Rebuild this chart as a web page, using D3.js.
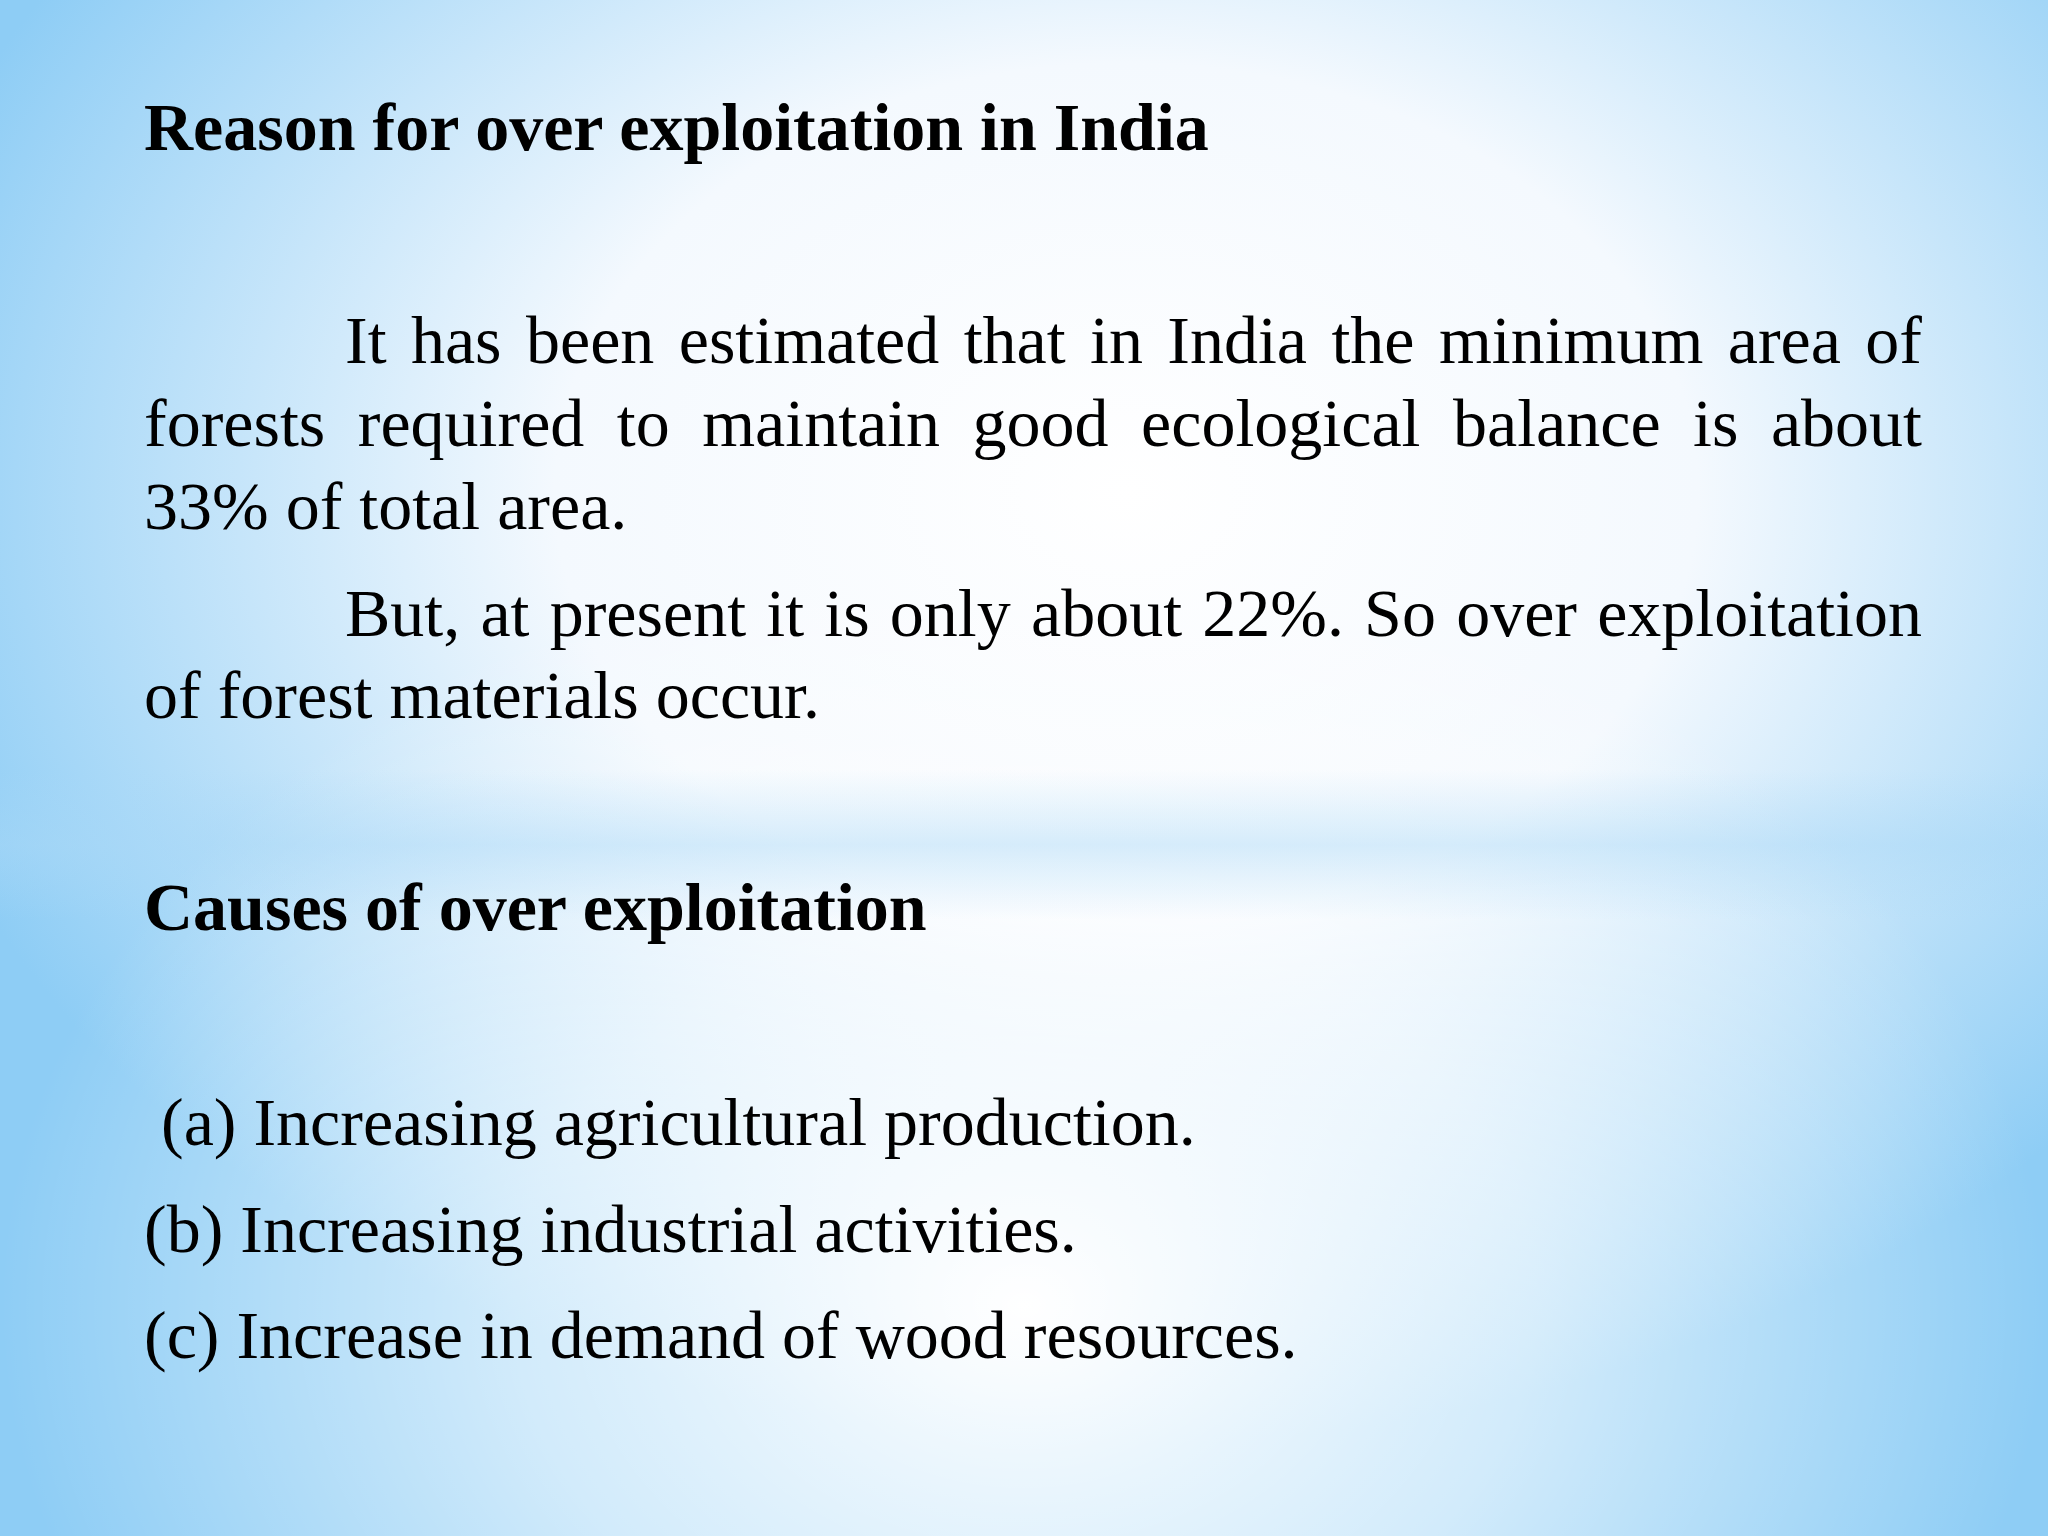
<!DOCTYPE html>
<html><head><meta charset="utf-8">
<script src="https://cdn.jsdelivr.net/npm/d3@7"></script>
<style>body{margin:0;overflow:hidden}</style>
</head><body><div id="slide"></div>
<script>
const W = 2048, H = 1536;
const headings = ["Reason for over exploitation in India", "Causes of over exploitation"];
const para1 = ["It has been estimated that in India the minimum area of",
  "forests required to maintain good ecological balance is about",
  "33% of total area."];
const para2 = ["But, at present it is only about 22%. So over exploitation",
  "of forest materials occur."];
const causes = [" (a) Increasing agricultural production.",
  "(b) Increasing industrial activities.",
  "(c) Increase in demand of wood resources."];

var svg = d3.select("#slide").append("svg").attr("width", W).attr("height", H);
var defs = svg.append("defs");
var g1 = defs.append("radialGradient").attr("id", "glow").attr("cx", 0.55).attr("cy", 0.32).attr("r", 0.62);
g1.append("stop").attr("offset", "0").attr("stop-color", "#ffffff");
g1.append("stop").attr("offset", "0.45").attr("stop-color", "#f4f9fe");
g1.append("stop").attr("offset", "1").attr("stop-color", "#8ecdf5");
var g2 = defs.append("radialGradient").attr("id", "glow2").attr("cx", 0.5).attr("cy", 0.85).attr("r", 0.5);
g2.append("stop").attr("offset", "0").attr("stop-color", "#ffffff").attr("stop-opacity", 1);
g2.append("stop").attr("offset", "0.5").attr("stop-color", "#ffffff").attr("stop-opacity", 0.6);
g2.append("stop").attr("offset", "1").attr("stop-color", "#ffffff").attr("stop-opacity", 0);
var band = defs.append("linearGradient").attr("id", "band").attr("x1", 0).attr("y1", 0).attr("x2", 0).attr("y2", 1);
band.append("stop").attr("offset", "0").attr("stop-color", "#a9d8f7").attr("stop-opacity", 0);
band.append("stop").attr("offset", "0.5").attr("stop-color", "#a9d8f7").attr("stop-opacity", 0.45);
band.append("stop").attr("offset", "1").attr("stop-color", "#a9d8f7").attr("stop-opacity", 0);

svg.append("rect").attr("width", W).attr("height", H).attr("fill", "url(#glow)");
svg.append("rect").attr("width", W).attr("height", H).attr("fill", "url(#glow2)");
svg.append("rect").attr("y", 770).attr("width", W).attr("height", 150).attr("fill", "url(#band)");

const font = "'Liberation Serif', 'Times New Roman', serif";
const left = 144, right = 1922, indent = 345;

function heading(txt, y) {
  svg.append("text").attr("x", left).attr("y", y).attr("font-family", font)
    .attr("font-weight", "bold").attr("font-size", 68).attr("fill", "#000").text(txt);
}
// justified line: place each word so the line spans x0..right
function justLine(txt, x0, y, justify) {
  var words = txt.split(" ");
  var g = svg.append("g");
  var t = g.selectAll("text").data(words).enter().append("text")
    .attr("y", y).attr("font-family", font).attr("font-size", 68).attr("fill", "#000")
    .text(d => d);
  var widths = [];
  t.each(function () { widths.push(this.getComputedTextLength()); });
  var space = justify ? (right - x0 - d3.sum(widths)) / (words.length - 1) : 17;
  var x = x0;
  t.attr("x", (d, i) => { var cx = x; x += widths[i] + space; return cx; });
}
function para(lines, ys) {
  lines.forEach((l, i) => justLine(l, i === 0 ? indent : left, ys[i], i < lines.length - 1));
}

heading(headings[0], 150);
para(para1, [363, 446, 529]);
para(para2, [636, 718]);
heading(headings[1], 930);
causes.forEach((c, i) => {
  svg.append("text").attr("x", left).attr("y", [1145, 1252, 1358][i]).attr("font-family", font)
    .attr("font-size", 68).attr("fill", "#000").attr("xml:space", "preserve").style("white-space", "pre").text(c);
});
</script>
</body></html>
